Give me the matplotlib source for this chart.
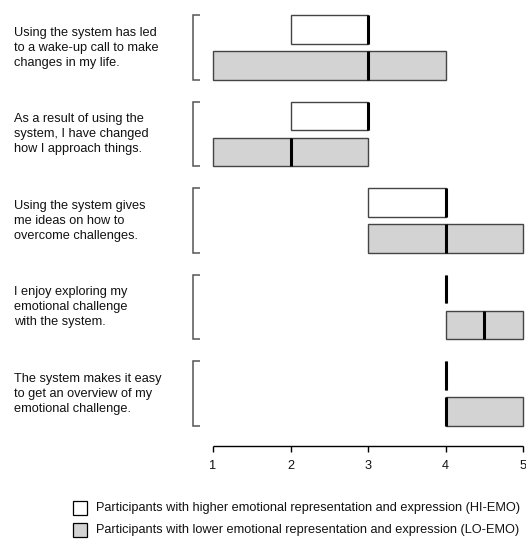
import matplotlib
matplotlib.use("Agg")
import matplotlib.pyplot as plt
from matplotlib.patches import Rectangle

plt.rcParams['font.family'] = ['Liberation Sans', 'DejaVu Sans']

statements = [
    "Using the system has led\nto a wake-up call to make\nchanges in my life.",
    "As a result of using the\nsystem, I have changed\nhow I approach things.",
    "Using the system gives\nme ideas on how to\novercome challenges.",
    "I enjoy exploring my\nemotional challenge\nwith the system.",
    "The system makes it easy\nto get an overview of my\nemotional challenge.",
]

# Quartiles (Q1, median, Q3) per statement on the 1-5 Likert scale
hi_q1 = [2, 2, 3, 4, 4]
hi_med = [3, 3, 4, 4, 4]
hi_q3 = [3, 3, 4, 4, 4]

lo_q1 = [1, 1, 3, 4, 4]
lo_med = [3, 2, 4, 4.5, 4]
lo_q3 = [4, 3, 5, 5, 5]

ticks = [1, 2, 3, 4, 5]
legend_labels = [
    "Participants with higher emotional representation and expression (HI-EMO)",
    "Participants with lower emotional representation and expression (LO-EMO)",
]
fills = ["white", "#d3d3d3"]

W, H, DPI = 526, 540, 100
fig = plt.figure(figsize=(W / DPI, H / DPI), dpi=DPI)
ax = fig.add_axes([0, 0, 1, 1])

# x: scale value -> pixel mapping; y: pixels from the top
x1_px, x5_px = 213.0, 523.0
ppu = (x5_px - x1_px) / 4.0
ax.set_xlim(1 - x1_px / ppu, 5 + (W - x5_px) / ppu)
ax.set_ylim(H, 0)
ax.axis("off")


def px2x(px):
    return 1 + (px - x1_px) / ppu


group_top0 = 15.0
pitch = 86.5
box_h = 28.5
gap = 7.5
txt_size = 9.2

stats_hi, stats_lo, pos_hi, pos_lo = [], [], [], []
for i in range(len(statements)):
    top = group_top0 + pitch * i
    stats_hi.append(dict(q1=hi_q1[i], med=hi_med[i], q3=hi_q3[i],
                         whislo=hi_q1[i], whishi=hi_q3[i], fliers=[]))
    stats_lo.append(dict(q1=lo_q1[i], med=lo_med[i], q3=lo_q3[i],
                         whislo=lo_q1[i], whishi=lo_q3[i], fliers=[]))
    pos_hi.append(top + box_h / 2)
    pos_lo.append(top + box_h + gap + box_h / 2)

    # bracket grouping the two boxes
    bx = px2x(192.5)
    sx = px2x(199.5)
    ybot = top + 2 * box_h + gap
    ax.plot([sx, bx, bx, sx], [top, top, ybot, ybot], color="#555555",
            lw=1.1, solid_capstyle="butt", solid_joinstyle="miter")

    ax.text(px2x(14), top + box_h + gap / 2 + 0.5, statements[i], ha="left",
            va="center", fontsize=txt_size, linespacing=1.32, color="#111111")

for stats, pos, fc in [(stats_hi, pos_hi, fills[0]), (stats_lo, pos_lo, fills[1])]:
    ax.bxp(stats, positions=pos, widths=box_h, orientation="horizontal",
           patch_artist=True, showcaps=False, showfliers=False,
           boxprops=dict(facecolor=fc, edgecolor="#444444", linewidth=1.0),
           whiskerprops=dict(color="#444444", linewidth=1.0),
           medianprops=dict(color="black", linewidth=2.2,
                            solid_capstyle="butt"),
           manage_ticks=False)

# bottom scale
axis_y = 445.5
ax.plot([ticks[0], ticks[-1]], [axis_y, axis_y], color="black", lw=1.0,
        solid_capstyle="butt")
for t in ticks:
    ax.plot([t, t], [axis_y, axis_y + 6], color="black", lw=1.0,
            solid_capstyle="butt")
    ax.text(t, axis_y + 20.5, str(t), ha="center", va="center",
            fontsize=txt_size, color="#111111")

# legend
leg_y = [508.0, 529.5]
for lab, fc, y in zip(legend_labels, fills, leg_y):
    ax.add_patch(Rectangle((px2x(73), y - 7), 14 / ppu, 14, facecolor=fc,
                           edgecolor="black", lw=0.9))
    ax.text(px2x(96), y, lab, ha="left", va="center", fontsize=9.2,
            color="#111111")

fig.savefig("out.png", dpi=DPI)
